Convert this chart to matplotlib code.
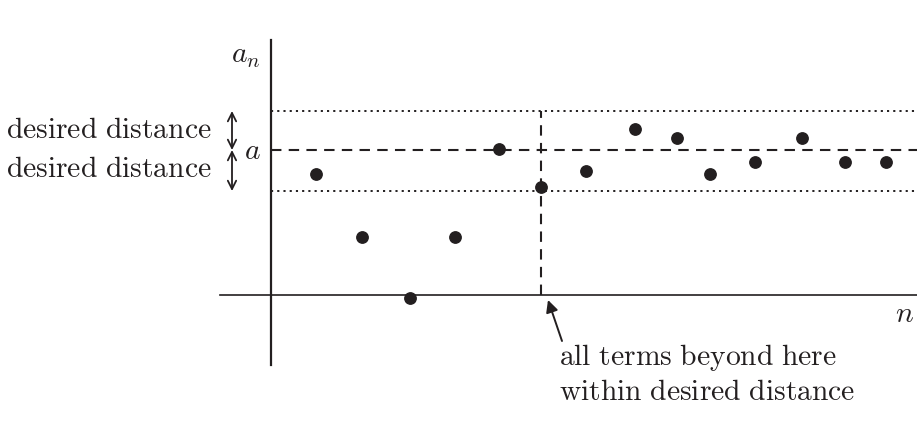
import matplotlib
matplotlib.use("Agg")
import matplotlib.pyplot as plt

# Data
n_vals = [1.0, 2.02, 3.09, 4.09, 5.07, 6.0, 7.0, 8.09, 9.02, 9.76, 10.76, 11.8, 12.76, 13.66]
a_vals = [0.834, 0.40, -0.02, 0.40, 1.007, 0.745, 0.855, 1.145, 1.083, 0.834, 0.917, 1.083, 0.917, 0.917]
limit_a = 1.0
eps_up = 0.269
eps_dn = 0.283
N_cut = 6.0
labels_left = ["desired distance", "desired distance"]
note_text = "all terms beyond here\nwithin desired distance"

ink = "#231f20"
plt.rcParams['mathtext.fontset'] = 'cm'

fig = plt.figure(figsize=(9.17, 4.35), dpi=100)
ax = fig.add_axes([0, 0, 1, 1])
ax.set_xlim(-271/45, (917-271)/45)
ax.set_ylim(-139/145, 296/145)
ax.axis('off')

# axes lines
ax.plot([0, 0], [-0.48, 1.76], color=ink, lw=1.6)
ax.plot([-1.13, 14.4], [0, 0], color=ink, lw=1.2)

# band lines
ax.plot([0, 14.4], [limit_a + eps_up]*2, color=ink, lw=1.4, ls=(0, (1.1, 2.1)))
ax.plot([0, 14.4], [limit_a - eps_dn]*2, color=ink, lw=1.4, ls=(0, (1.1, 2.1)))
ax.plot([0, 14.4], [limit_a]*2, color=ink, lw=1.5, ls=(0, (5, 3.5)))
ax.plot([N_cut, N_cut], [0, limit_a + eps_up], color=ink, lw=1.5, ls=(0, (5, 3.5)))

# points
ax.plot(n_vals, a_vals, 'o', color=ink, ms=8.2, mec=ink)

# double arrows
xa = -39/45
ax.annotate('', xy=(xa, limit_a + eps_up), xytext=(xa, limit_a),
            arrowprops=dict(arrowstyle='<->', color=ink, lw=1.3, mutation_scale=15, shrinkA=0, shrinkB=0))
ax.annotate('', xy=(xa, limit_a - eps_dn), xytext=(xa, limit_a),
            arrowprops=dict(arrowstyle='<->', color=ink, lw=1.3, mutation_scale=15, shrinkA=0, shrinkB=0))

fs = 21.3
ax.text(-59/45, limit_a + 0.15, r'$\mathrm{' + labels_left[0].replace(' ', r'\ ') + '}$',
        ha='right', va='center', fontsize=fs, color=ink)
ax.text(-59/45, limit_a - 0.12, r'$\mathrm{' + labels_left[1].replace(' ', r'\ ') + '}$',
        ha='right', va='center', fontsize=fs, color=ink)
ax.text(-10/45, limit_a, r'$a$', ha='right', va='center', fontsize=fs, color=ink)
ax.text(-10/45, 1.66, r'$a_n$', ha='right', va='center', fontsize=fs, color=ink)
ax.text(14.3, -0.12, r'$n$', ha='right', va='center', fontsize=fs, color=ink)

lines = note_text.split('\n')
for i, ln in enumerate(lines):
    ax.text(288/45, -62/145 - i*34/145, r'$\mathrm{' + ln.replace(' ', r'\ ') + '}$',
            ha='left', va='center', fontsize=fs, color=ink)

ax.annotate('', xy=(N_cut + 7/45, -5/145), xytext=(N_cut + 21/45, -46/145),
            arrowprops=dict(arrowstyle='-|>', color=ink, lw=1.4, mutation_scale=18, shrinkA=0, shrinkB=0))

fig.savefig('out.png', dpi=100)
